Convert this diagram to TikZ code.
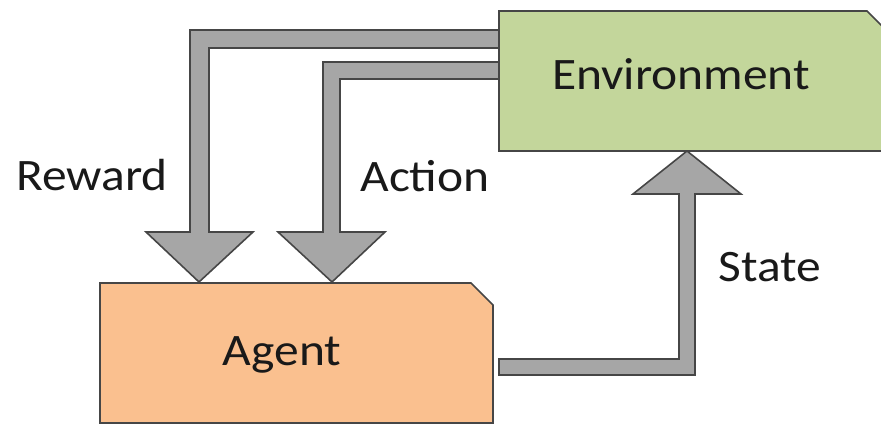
\documentclass[tikz,border=0pt]{standalone}
\usepackage{fontspec}
\setmainfont{Carlito}[FakeStretch=1.1]
\definecolor{envgreen}{RGB}{195,214,155}
\definecolor{agorange}{RGB}{250,192,143}
\definecolor{arrowgray}{RGB}{166,166,166}
\definecolor{edgegray}{RGB}{70,70,70}
\begin{document}
\begin{tikzpicture}[x=1pt,y=-1pt,
  blockarrow/.style={fill=arrowgray,draw=edgegray,line width=1.6pt,line join=miter},
  boxshape/.style={draw=edgegray,line width=1.6pt,line join=miter},
  lbl/.style={anchor=base,inner sep=0pt,font=\fontsize{45}{54}\selectfont,text=black!90}]
\useasboundingbox (0,0) rectangle (881,425);
\begin{scope}
\clip (0,0) rectangle (881,425);
% reward arrow
\draw[blockarrow] (499,30) -- (190,30) -- (190,232) -- (146,232) -- (199,282) -- (253,232) -- (209,232) -- (209,48) -- (499,48);
% action arrow
\draw[blockarrow] (499,62) -- (323,62) -- (323,232) -- (278,232) -- (332,282) -- (385,232) -- (340,232) -- (340,79) -- (499,79);
% state arrow
\draw[blockarrow] (499,359) -- (679,359) -- (679,194) -- (633,194) -- (687,151) -- (741,194) -- (695,194) -- (695,375) -- (499,375) -- cycle;
% environment box
\draw[boxshape,fill=envgreen] (499,11) -- (867,11) -- (895,39) -- (895,151) -- (499,151) -- cycle;
% agent box
\draw[boxshape,fill=agorange] (100,283) -- (471,283) -- (493,305) -- (493,423) -- (100,423) -- cycle;
\end{scope}
\node[lbl] (env) at (681,90) {Environment};
\node[lbl] (agent) at (282,365) {Agent};
\node[lbl] (reward) at (92,190) {Reward};
\node[lbl] (action) at (425,191) {Action};
\node[lbl] (state) at (770,281) {State};
\end{tikzpicture}
\end{document}
